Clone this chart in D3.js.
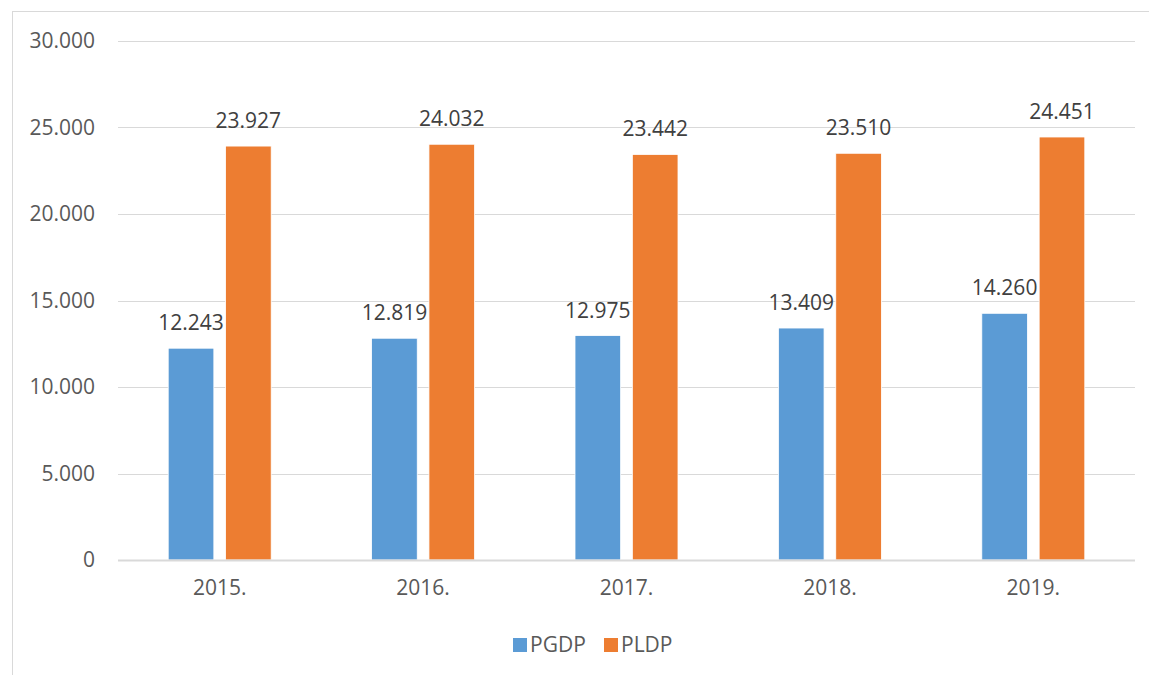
<!DOCTYPE html>
<html>
<head>
<meta charset="utf-8">
<script src="https://cdn.jsdelivr.net/npm/d3@7"></script>
<style>
  body { margin: 0; background: #fff; }
  svg { display: block; font-family: "Open Sans", "Noto Sans", sans-serif; }
</style>
</head>
<body>
<svg id="chart" width="1149" height="675"></svg>
<script>
// chart data
var years = ["2015.", "2016.", "2017.", "2018.", "2019."];
var seriesNames = ["PGDP", "PLDP"];
var pgdp = [12243, 12819, 12975, 13409, 14260];
var pldp = [23927, 24032, 23442, 23510, 24451];
var yTicks = [0, 5000, 10000, 15000, 20000, 25000, 30000];
var colors = ["#5B9BD5", "#ED7D31"];

var svg = d3.select("#chart");
var width = +svg.attr("width");
var height = +svg.attr("height");

// outer chart border (right/bottom run off the picture)
svg.append("rect")
    .attr("x", 12.5).attr("y", 11.5)
    .attr("width", width + 10).attr("height", height + 10)
    .attr("fill", "none").attr("stroke", "#d9d9d9").attr("stroke-width", 1);

var plotLeft = 118, plotRight = 1135, plotTop = 41, plotBottom = 560;

var fmt = d3.formatLocale({ decimal: ",", thousands: ".", grouping: [3], currency: ["", ""] }).format(",d");

var x0 = d3.scaleBand().domain(years).range([plotLeft, plotRight]).paddingInner(0).paddingOuter(0);
// bar pair inside each band: 45.7 + 11.7 + 45.7
var x1 = d3.scaleBand().domain(seriesNames)
    .range([x0.bandwidth() / 2 - 51.5, x0.bandwidth() / 2 + 51.5])
    .paddingInner(0.204).paddingOuter(0);
var y = d3.scaleLinear().domain([0, 30000]).range([plotBottom, plotTop]);

// gridlines
svg.append("g").selectAll("line")
    .data(yTicks.filter(function (d) { return d > 0; }))
    .join("line")
    .attr("x1", plotLeft).attr("x2", plotRight)
    .attr("y1", function (d) { return Math.round(y(d)) + 0.5; })
    .attr("y2", function (d) { return Math.round(y(d)) + 0.5; })
    .attr("stroke", "#d9d9d9").attr("stroke-width", 1);

// y tick labels
var yAxis = d3.axisLeft(y).tickValues(yTicks).tickSize(0).tickPadding(0).tickFormat(fmt);
var gy = svg.append("g").attr("transform", "translate(95,0)").call(yAxis);
gy.select(".domain").remove();
gy.selectAll("text")
    .attr("fill", "#595959").attr("font-size", "21px")
    .attr("font-family", "'Open Sans', 'Noto Sans', sans-serif");

// bars
var rows = years.map(function (yr, i) {
    return { year: yr, vals: [{ s: "PGDP", v: pgdp[i], c: colors[0] }, { s: "PLDP", v: pldp[i], c: colors[1] }] };
});

var groups = svg.append("g").selectAll("g")
    .data(rows).join("g")
    .attr("transform", function (d) { return "translate(" + x0(d.year) + ",0)"; });

groups.selectAll("rect")
    .data(function (d) { return d.vals; })
    .join("rect")
    .attr("x", function (d) { return x1(d.s); })
    .attr("y", function (d) { return y(d.v); })
    .attr("width", x1.bandwidth())
    .attr("height", function (d) { return y(0) - y(d.v); })
    .attr("fill", function (d) { return d.c; })
    .attr("stroke", "#ffffff").attr("stroke-width", 0.8);

groups.selectAll("text")
    .data(function (d) { return d.vals; })
    .join("text")
    .attr("x", function (d) { return x1(d.s) + x1.bandwidth() / 2; })
    .attr("y", function (d) { return y(d.v) - 18; })
    .attr("text-anchor", "middle")
    .attr("fill", "#404040").attr("font-size", "21px")
    .text(function (d) { return fmt(d.v); });

// zero axis line
svg.append("line")
    .attr("x1", plotLeft).attr("x2", plotRight)
    .attr("y1", plotBottom + 0.5).attr("y2", plotBottom + 0.5)
    .attr("stroke", "#d9d9d9").attr("stroke-width", 2);

// x labels
var xAxis = d3.axisBottom(x0).tickSize(0).tickPadding(0);
var gx = svg.append("g").attr("transform", "translate(0,580)").call(xAxis);
gx.select(".domain").remove();
gx.selectAll("text")
    .attr("fill", "#595959").attr("font-size", "21px")
    .attr("font-family", "'Open Sans', 'Noto Sans', sans-serif");

// legend
var legendX = [513, 604];
var legend = svg.append("g").selectAll("g")
    .data(seriesNames).join("g")
    .attr("transform", function (d, i) { return "translate(" + legendX[i] + ",638)"; });
legend.append("rect")
    .attr("width", 14).attr("height", 14)
    .attr("fill", function (d, i) { return colors[i]; });
legend.append("text")
    .attr("x", 17).attr("y", 14)
    .attr("fill", "#595959").attr("font-size", "21px")
    .text(function (d) { return d; });
</script>
</body>
</html>
